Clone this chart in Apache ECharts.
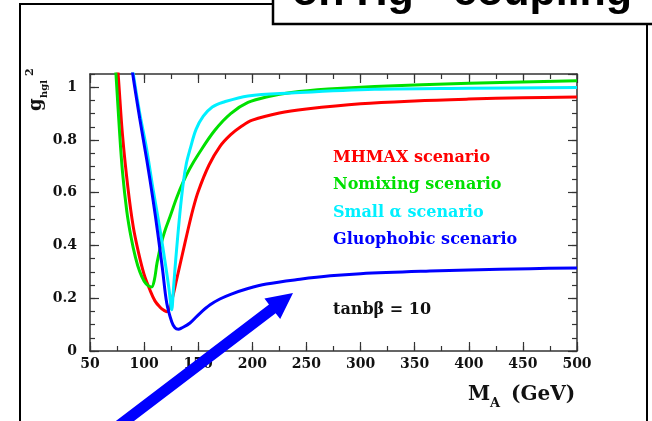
<!DOCTYPE html>
<html>
<head>
<meta charset="utf-8">
<script src="https://cdn.jsdelivr.net/npm/echarts@6/dist/echarts.min.js"></script>
<style>
  html, body { margin: 0; padding: 0; background: #fff; }
  #chart { width: 652px; height: 421px; }
</style>
</head>
<body>
<div id="chart"></div>
<script>
// g_hgl^2 versus M_A for four MSSM benchmark scenarios (tan beta = 10)
const mhmaxMA = [74, 76, 80, 85, 90, 95, 100, 105, 110, 115, 118, 121, 124, 127, 130, 135, 140, 145, 150, 160, 170, 180, 190, 200, 225, 250, 300, 350, 400, 450, 500];
const mhmaxG  = [1.14, 1.05, 0.82, 0.62, 0.47, 0.37, 0.29, 0.235, 0.19, 0.165, 0.155, 0.149, 0.17, 0.215, 0.27, 0.36, 0.45, 0.535, 0.605, 0.705, 0.775, 0.82, 0.852, 0.875, 0.902, 0.917, 0.937, 0.948, 0.955, 0.96, 0.963];

const nomixMA = [72, 74, 77, 80, 84, 88, 92, 96, 100, 104, 107, 109.5, 112, 116, 120, 124, 130, 136, 142, 150, 165, 180, 196, 215, 236, 270, 313, 400, 500];
const nomixG  = [1.17, 1.05, 0.85, 0.68, 0.53, 0.43, 0.355, 0.3, 0.265, 0.247, 0.243, 0.27, 0.335, 0.41, 0.465, 0.51, 0.58, 0.64, 0.69, 0.745, 0.835, 0.9, 0.942, 0.965, 0.98, 0.993, 1.003, 1.015, 1.024];

const smallMA = [89, 90, 96, 102.4, 108, 114.7, 120, 123, 125.5, 127, 128.5, 130, 133, 136.2, 139, 142.4, 148, 154.7, 163, 173, 196, 236, 313, 400, 500];
const smallG  = [1.09, 1.05, 0.9, 0.764, 0.62, 0.46, 0.32, 0.235, 0.156, 0.23, 0.31, 0.384, 0.52, 0.638, 0.71, 0.764, 0.84, 0.89, 0.925, 0.943, 0.967, 0.978, 0.992, 0.996, 0.999];

const gluoMA = [88.5, 89.5, 96, 102.4, 108, 113, 117, 120.9, 125.5, 128.5, 131.6, 135, 142.4, 151.6, 161, 170, 180, 196, 213, 244, 272, 300, 364, 400, 457, 500];
const gluoG  = [1.09, 1.05, 0.88, 0.726, 0.58, 0.435, 0.31, 0.182, 0.111, 0.088, 0.0825, 0.088, 0.106, 0.143, 0.175, 0.197, 0.215, 0.237, 0.254, 0.272, 0.285, 0.293, 0.303, 0.307, 0.312, 0.315];

const scenarioNames  = ['MHMAX scenario', 'Nomixing scenario', 'Small \u03b1 scenario', 'Gluophobic scenario'];
const scenarioColors = ['#ff0000', '#00e000', '#00f0ff', '#0000ff'];
const scenarioX = [mhmaxMA, nomixMA, smallMA, gluoMA];
const scenarioY = [mhmaxG, nomixG, smallG, gluoG];

const xMin = 50, xMax = 500, xMajor = 50, xMinor = 25;
const yMin = 0, yMax = 1.05, yMajor = 0.2, yMinor = 0.05;

const serif = '"DejaVu Serif", "Liberation Serif", serif';
const axisColor = '#333';
const plotRect = { left: 90, top: 74, width: 487, height: 277, show: false };

function pairs(xs, ys) { return xs.map((x, i) => [x, ys[i]]); }

// One frame side: grid 0 carries the major ticks (and the labels), grid 1 the minor ticks
function frameAxis(kind, position, major, withLabels) {
  const ax = {
    type: 'value', position: position, gridIndex: major ? 0 : 1,
    min: kind === 'x' ? xMin : yMin,
    max: kind === 'x' ? xMax : yMax,
    interval: kind === 'x' ? (major ? xMajor : xMinor) : (major ? yMajor : yMinor),
    axisLine: { show: major, onZero: false, lineStyle: { color: axisColor, width: 1.5 } },
    axisTick: { show: true, inside: true, length: major ? 9 : 5, lineStyle: { color: axisColor, width: 1.2 } },
    axisLabel: { show: false },
    splitLine: { show: false }
  };
  if (withLabels) {
    ax.axisLabel = {
      show: true, fontFamily: serif, fontWeight: 'bold', fontSize: 14, color: '#111',
      margin: kind === 'x' ? 6 : 13, showMaxLabel: kind === 'x'
    };
  }
  return ax;
}

// Decorative arrow pointing at the gluophobic curve
const arrowTip = [293, 293], arrowTail = [100, 440];
const shaftHalf = 5.5, headLen = 26, headHalf = 13;
function arrowPoints() {
  const dx = arrowTip[0] - arrowTail[0], dy = arrowTip[1] - arrowTail[1];
  const L = Math.hypot(dx, dy), ux = dx / L, uy = dy / L, nx = -uy, ny = ux;
  const bx = arrowTip[0] - headLen * ux, by = arrowTip[1] - headLen * uy;
  return [
    [arrowTail[0] + shaftHalf * nx, arrowTail[1] + shaftHalf * ny],
    [bx + shaftHalf * nx, by + shaftHalf * ny],
    [bx + headHalf * nx, by + headHalf * ny],
    arrowTip,
    [bx - headHalf * nx, by - headHalf * ny],
    [bx - shaftHalf * nx, by - shaftHalf * ny],
    [arrowTail[0] - shaftHalf * nx, arrowTail[1] - shaftHalf * ny]
  ];
}

const labelY = [158, 185, 213, 240];
const headFont = 'bold 43px "Liberation Sans", Arial, sans-serif';
const graphics = [
  // outer slide frame
  { type: 'polyline', z: 50, shape: { points: [[20, 440], [20, 4], [280, 4]] }, style: { stroke: '#000', lineWidth: 2, fill: null } },
  { type: 'line', z: 50, shape: { x1: 647, y1: 20, x2: 647, y2: 440 }, style: { stroke: '#000', lineWidth: 2 } },
  // heading box
  { type: 'rect', z: 60, shape: { x: 273, y: -10, width: 420, height: 34 }, style: { fill: '#fff', stroke: '#000', lineWidth: 2.5 } },
  { type: 'text', z: 61, x: 292, y: -7, style: { text: 'on Hg', font: headFont, fill: '#000', verticalAlign: 'middle', align: 'left' } },
  { type: 'text', z: 61, x: 453, y: -7, style: { text: 'coupling', font: headFont, fill: '#000', verticalAlign: 'middle', align: 'left' } },
  // y axis title g_hgl^2
  { type: 'group', z: 40, x: 45, y: 111, rotation: Math.PI / 2, children: [
    { type: 'text', x: 0, y: 0, style: { text: 'g', font: 'bold 18px ' + serif, fill: '#111', verticalAlign: 'bottom', align: 'left' } },
    { type: 'text', x: 13, y: 4, style: { text: 'hgl', font: 'bold 10px ' + serif, fill: '#111', verticalAlign: 'bottom', align: 'left' } },
    { type: 'text', x: 35, y: -9, style: { text: '2', font: 'bold 11px ' + serif, fill: '#111', verticalAlign: 'bottom', align: 'left' } }
  ] },
  // x axis title M_A (GeV)
  { type: 'text', z: 40, x: 468, y: 395, style: { text: 'M', font: 'bold 20px ' + serif, fill: '#111', verticalAlign: 'middle', align: 'left' } },
  { type: 'text', z: 40, x: 490, y: 404, style: { text: 'A', font: 'bold 13px ' + serif, fill: '#111', verticalAlign: 'middle', align: 'left' } },
  { type: 'text', z: 40, x: 511, y: 395, style: { text: '(GeV)', font: 'bold 20px ' + serif, fill: '#111', verticalAlign: 'middle', align: 'left' } },
  // parameter note
  { type: 'text', z: 40, x: 333, y: 310, style: { text: 'tanb\u03b2 = 10', font: 'bold 16px ' + serif, fill: '#111', verticalAlign: 'middle', align: 'left' } },
  // arrow
  { type: 'polygon', z: 100, shape: { points: arrowPoints() }, style: { fill: '#0000ff' } }
];
scenarioNames.forEach((name, i) => {
  graphics.push({ type: 'text', z: 40, x: 333, y: labelY[i], style: { text: name, font: 'bold 16px ' + serif, fill: scenarioColors[i], verticalAlign: 'middle', align: 'left' } });
});

const chart = echarts.init(document.getElementById('chart'), null, { renderer: 'canvas' });
chart.setOption({
  animation: false,
  backgroundColor: '#fff',
  grid: [Object.assign({}, plotRect), Object.assign({}, plotRect)],
  xAxis: [
    frameAxis('x', 'bottom', true, true),
    frameAxis('x', 'top', true, false),
    frameAxis('x', 'bottom', false, false),
    frameAxis('x', 'top', false, false)
  ],
  yAxis: [
    frameAxis('y', 'left', true, true),
    frameAxis('y', 'right', true, false),
    frameAxis('y', 'left', false, false),
    frameAxis('y', 'right', false, false)
  ],
  series: scenarioNames.map((name, i) => ({
    name: name, type: 'line', xAxisIndex: 0, yAxisIndex: 0,
    data: pairs(scenarioX[i], scenarioY[i]),
    showSymbol: false, smooth: 0.35, clip: true,
    lineStyle: { color: scenarioColors[i], width: 3 }, z: 2 + i
  })),
  graphic: graphics
});
</script>
</body>
</html>
